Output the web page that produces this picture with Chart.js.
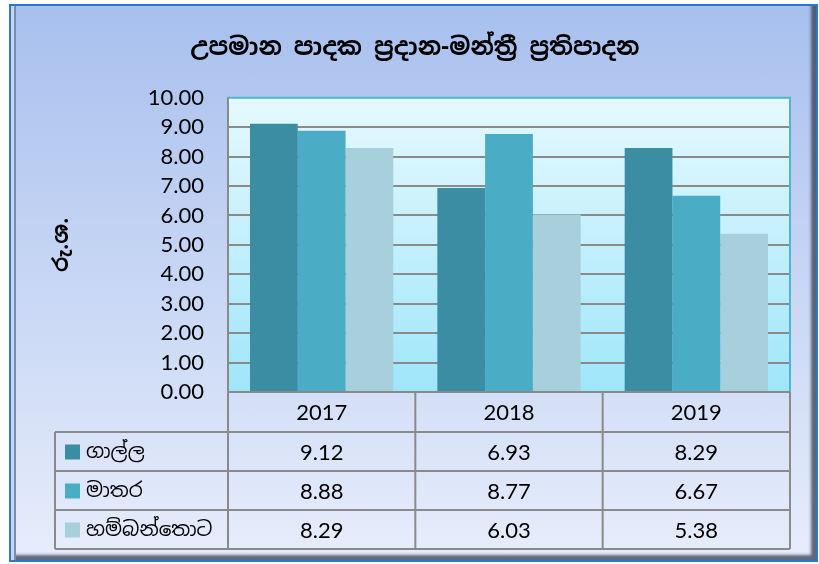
<!DOCTYPE html>
<html>
<head>
<meta charset="utf-8">
<script src="https://cdn.jsdelivr.net/npm/chart.js@4/dist/chart.umd.min.js"></script>
<style>
  body { margin: 0; background: #ffffff; }
  #wrap { position: relative; width: 819px; height: 564px; }
  #frame {
    position: absolute; left: 9px; top: 4px; width: 809px; height: 558px;
    box-sizing: border-box; border: 2px solid #2f78c9;
    background: linear-gradient(#a8c0ee, #e7edfb);
    box-shadow: inset 3px 0 0 #c9d6f2, inset 5px 0 0 #7f8ea8, inset -5px -5px 3px rgba(50,60,80,0.75);
  }
  #myChart { position: absolute; left: 0; top: 0; }
</style>
</head>
<body>
<div id="wrap">
  <div id="frame"></div>
  <canvas id="myChart" width="819" height="564"></canvas>
</div>
<script>
// data
const years = ['2017', '2018', '2019'];
const districts = ['ගාල්ල', 'මාතර', 'හම්බන්තොට'];
const galle = [9.12, 6.93, 8.29];
const matara = [8.88, 8.77, 6.67];
const hambantota = [8.29, 6.03, 5.38];
const barColors = ['#3a8da3', '#4aacc5', '#a8cfdc'];

const numFont = 'Lato, "Open Sans", sans-serif';
const sinFont = '"Noto Sans Sinhala", "Iskoola Pota", "Noto Sans", sans-serif';

//background of plot area + top/right border
const plotBg = {
    id: 'plotBg',
    beforeDraw(chart) {
        const a = chart.chartArea;
        const c = chart.ctx;
        const g = c.createLinearGradient(0, a.top, 0, a.bottom);
        g.addColorStop(0, '#e5f9fe');
        g.addColorStop(1, '#9fe6fb');
        c.save();
        c.fillStyle = g;
        c.fillRect(a.left, a.top, a.right - a.left, a.bottom - a.top);
        c.restore();
    },
    afterDatasetsDraw(chart) {
        const a = chart.chartArea;
        const c = chart.ctx;
        c.save();
        c.strokeStyle = '#4db5cc';
        c.lineWidth = 2;
        c.beginPath();
        c.moveTo(a.left, a.top);
        c.lineTo(a.right, a.top);
        c.lineTo(a.right, a.bottom);
        c.stroke();
        c.restore();
    }
};

//data table under the chart
const dataTable = {
    id: 'dataTable',
    afterDraw(chart) {
        const c = chart.ctx;
        const x = chart.scales.x;
        const a = chart.chartArea;
        const half = (x.getPixelForValue(1) - x.getPixelForValue(0)) / 2;
        const cols = [x.getPixelForValue(0) - half];
        years.forEach((y, i) => cols.push(x.getPixelForValue(i) + half));
        const legLeft = 55;
        const top = a.bottom;
        const rowH = 39;
        const headH = 40;
        const rows = [top, top + headH, top + headH + rowH, top + headH + 2 * rowH, top + headH + 3 * rowH];

        c.save();
        c.strokeStyle = '#8a8a8a';
        c.lineWidth = 2;
        c.beginPath();
        // vertical lines
        cols.forEach(cx => { c.moveTo(cx, top); c.lineTo(cx, rows[4]); });
        c.moveTo(legLeft, rows[1]); c.lineTo(legLeft, rows[4]);
        // horizontal lines
        c.moveTo(cols[0], rows[0]); c.lineTo(cols[3], rows[0]);
        for (let r = 1; r < 5; r++) { c.moveTo(legLeft, rows[r]); c.lineTo(cols[3], rows[r]); }
        c.stroke();

        c.fillStyle = '#000';
        c.textAlign = 'center';
        c.textBaseline = 'middle';
        c.font = '22px ' + numFont;
        years.forEach((y, i) => c.fillText(y, x.getPixelForValue(i), (rows[0] + rows[1]) / 2 + 1));

        chart.data.datasets.forEach((ds, r) => {
            const cy = (rows[r + 1] + rows[r + 2]) / 2 + 1;
            c.font = '22px ' + numFont;
            c.textAlign = 'center';
            c.fillStyle = '#000';
            ds.data.forEach((v, i) => c.fillText(v.toFixed(2), x.getPixelForValue(i), cy));
            c.fillStyle = ds.backgroundColor;
            c.fillRect(legLeft + 10, cy - 8, 15, 15);
            c.fillStyle = '#000';
            c.textAlign = 'left';
            c.font = '20px ' + sinFont;
            c.fillText(ds.label, legLeft + 31, cy);
        });
        c.restore();
    }
};

const ctx = document.getElementById('myChart');

new Chart(ctx, {
    type: 'bar',
    data: {
        labels: years,
        datasets: [
            { label: districts[0], data: galle, backgroundColor: barColors[0] },
            { label: districts[1], data: matara, backgroundColor: barColors[1] },
            { label: districts[2], data: hambantota, backgroundColor: barColors[2] }
        ]
    },
    options: {
        responsive: false,
        animation: false,
        layout: { padding: { left: 40, right: 29, top: 0, bottom: 172 } },
        datasets: { bar: { categoryPercentage: 0.765, barPercentage: 1 } },
        plugins: {
            legend: { display: false },
            tooltip: { enabled: false },
            title: {
                display: true,
                text: 'උපමාන පාදක ප්‍රදාන-මන්ත්‍රී ප්‍රතිපාදන',
                color: '#000',
                font: { family: sinFont, size: 24, weight: 'bold' },
                padding: { top: 34, bottom: 35 }
            }
        },
        scales: {
            x: { display: false },
            y: {
                min: 0,
                max: 10,
                ticks: {
                    stepSize: 1,
                    color: '#000',
                    padding: 24,
                    font: { family: numFont, size: 22 },
                    callback: v => v.toFixed(2)
                },
                grid: {
                    drawTicks: false,
                    lineWidth: 2,
                    color: c => c.index === 10 ? 'rgba(0,0,0,0)' : '#8a8a8a'
                },
                border: { color: '#8a8a8a', width: 2 },
                title: {
                    display: true,
                    text: 'රු.ශ.',
                    color: '#000',
                    font: { family: sinFont, size: 21, weight: 'bold' },
                    padding: { top: 10, bottom: 0 }
                },
                afterFit(scale) { scale.width = 188; }
            }
        }
    },
    plugins: [plotBg, dataTable]
});
</script>
</body>
</html>
